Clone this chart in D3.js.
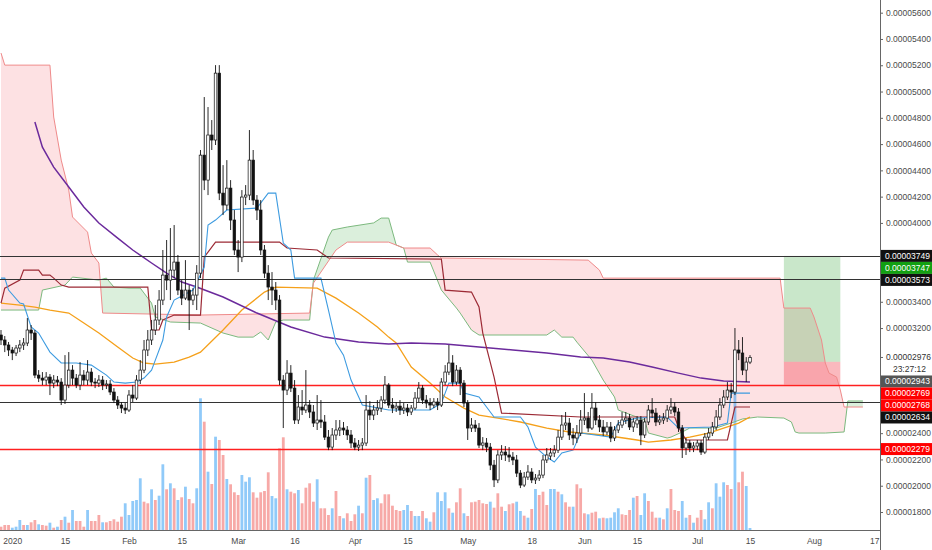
<!DOCTYPE html>
<html>
<head>
<meta charset="utf-8">
<script src="https://cdn.jsdelivr.net/npm/d3@7"></script>
<style>
  body { margin: 0; background: #fff; }
  svg { display: block; font-family: "Liberation Sans", Arial, sans-serif; }
  .tick text { fill: #4a4a4a; font-size: 8.5px; }
</style>
</head>
<body>
<svg width="932" height="550"></svg>
<script>
// prices are in units of 0.00000001
const firstCandle = '2019-12-29';

// daily candles [open, high, low, close]
const ohlc = [
  [3147,3185,3071,3109],[3109,3139,3017,3071],[3071,3094,2987,3033],[3033,3056,2956,3010],[3010,3071,2987,3048],
  [3048,3109,3017,3071],[3071,3124,3033,3086],[3086,3276,3063,3185],[3185,3223,3109,3162],[3162,3185,2819,2842],
  [2842,2880,2789,2819],[2819,2865,2766,2804],[2804,2865,2766,2827],[2827,2850,2690,2781],[2781,2842,2743,2804],
  [2804,2835,2758,2789],[2789,2819,2614,2652],[2652,2994,2622,2766],[2766,3017,2743,2880],[2880,2918,2766,2819],
  [2819,2850,2743,2766],[2766,2941,2728,2842],[2842,2880,2766,2804],[2804,2956,2766,2865],[2865,2895,2758,2789],
  [2789,2819,2743,2781],[2781,2842,2751,2804],[2804,2835,2728,2766],[2766,2804,2736,2774],[2774,2804,2690,2713],
  [2713,2743,2629,2652],[2652,2682,2584,2614],[2614,2637,2553,2591],[2591,2629,2546,2576],[2576,2728,2561,2690],
  [2690,2766,2637,2667],[2667,2842,2652,2804],[2804,2956,2774,2880],[2880,3109,2857,3033],[3033,3185,2987,3109],
  [3109,3261,3071,3185],[3185,3375,3147,3261],[3261,3489,3223,3413],[3413,3794,3375,3603],[3603,3870,3489,3565],
  [3565,3961,3413,3641],[3641,3984,3580,3702],[3702,3756,3451,3489],[3489,3565,3375,3428],[3428,3717,3413,3489],
  [3489,3527,3185,3413],[3413,3504,3375,3451],[3451,3679,3337,3618],[3618,4555,3580,4516],[4516,4958,4250,4326],
  [4326,4882,4212,4669],[4669,4783,4555,4631],[4631,5201,4593,5140],[5140,5201,4174,4227],[4227,4440,4060,4136],
  [4136,4478,4098,4265],[4265,4326,3946,4022],[4022,4098,3756,3794],[3794,3870,3626,3740],[3740,4250,3702,4197],
  [4197,4288,4136,4212],[4212,4707,4174,4478],[4478,4555,4136,4174],[4174,4212,4022,4098],[4098,4174,3756,3794],
  [3794,3832,3580,3618],[3618,3679,3413,3512],[3512,3626,3375,3489],[3489,3550,3337,3413],[3413,3451,2766,2804],
  [2804,2842,2439,2728],[2728,2956,2690,2857],[2857,2918,2713,2743],[2743,2804,2470,2500],[2500,2690,2470,2599],
  [2599,2728,2538,2576],[2576,2880,2553,2614],[2614,2652,2515,2561],[2561,2614,2447,2477],[2477,2690,2424,2500],
  [2500,2652,2439,2485],[2485,2538,2348,2370],[2370,2424,2271,2294],[2294,2439,2271,2386],[2386,2500,2348,2424],
  [2424,2500,2378,2439],[2439,2485,2386,2424],[2424,2454,2348,2386],[2386,2424,2287,2325],[2325,2363,2271,2294],
  [2294,2348,2264,2309],[2309,2363,2271,2325],[2325,2690,2302,2576],[2576,2644,2500,2538],[2538,2614,2500,2576],
  [2576,2652,2538,2591],[2591,2682,2561,2652],[2652,2835,2622,2766],[2766,2781,2591,2614],[2614,2667,2553,2591],
  [2591,2637,2561,2606],[2606,2652,2538,2576],[2576,2629,2546,2591],[2591,2622,2530,2561],[2561,2614,2538,2591],
  [2591,2713,2576,2667],[2667,2789,2637,2743],[2743,2766,2622,2652],[2652,2690,2591,2629],[2629,2667,2576,2614],
  [2614,2667,2591,2637],[2637,2667,2576,2614],[2614,2819,2599,2789],[2789,2918,2766,2865],[2865,3071,2842,2934],
  [2934,2994,2758,2789],[2789,2918,2766,2880],[2880,2903,2690,2781],[2781,2804,2599,2629],[2629,2652,2348,2439],
  [2439,2515,2409,2462],[2462,2500,2409,2439],[2439,2477,2287,2309],[2309,2370,2271,2325],[2325,2363,2256,2294],
  [2294,2325,2119,2157],[2157,2196,1990,2044],[2044,2271,2020,2234],[2234,2309,2196,2256],[2256,2302,2188,2234],
  [2234,2294,2180,2218],[2218,2256,2157,2196],[2196,2234,2066,2096],[2096,2119,1982,2005],[2005,2104,1990,2066],
  [2066,2157,2044,2104],[2104,2134,2020,2044],[2044,2089,2013,2058],[2058,2119,2036,2081],[2081,2234,2058,2196],
  [2196,2287,2173,2234],[2226,2287,2196,2249],[2249,2309,2218,2271],[2271,2424,2249,2370],[2370,2538,2348,2462],
  [2462,2561,2424,2477],[2477,2515,2348,2386],[2386,2439,2309,2363],[2363,2462,2325,2401],[2401,2576,2378,2500],
  [2500,2705,2462,2515],[2515,2561,2409,2439],[2439,2705,2424,2591],[2591,2637,2462,2500],[2500,2538,2409,2447],
  [2447,2500,2378,2409],[2409,2485,2386,2447],[2447,2485,2332,2363],[2363,2454,2340,2424],[2424,2500,2401,2462],
  [2462,2561,2439,2500],[2500,2561,2470,2515],[2515,2546,2424,2447],[2447,2515,2409,2485],[2470,2530,2439,2500],
  [2500,2530,2309,2386],[2386,2515,2363,2485],[2485,2614,2462,2576],[2576,2667,2515,2553],[2553,2591,2454,2485],
  [2485,2538,2462,2500],[2500,2553,2470,2515],[2515,2614,2485,2576],[2576,2667,2546,2599],[2599,2637,2530,2561],
  [2561,2591,2409,2439],[2439,2462,2211,2287],[2287,2363,2234,2325],[2325,2348,2256,2287],[2287,2332,2256,2302],
  [2302,2348,2271,2325],[2325,2348,2234,2256],[2256,2401,2241,2370],[2370,2439,2348,2401],[2401,2485,2378,2447],
  [2447,2576,2424,2523],[2523,2667,2500,2614],[2614,2728,2591,2675],[2675,2789,2652,2728],[2728,2781,2667,2713],
  [2713,3200,2690,3033],[3033,3109,2956,3010],[3010,3131,2842,2880],[2880,2979,2789,2941],[2941,2994,2926,2976]
];

// volume per candle (billions) and its direction (u = up, d = down)
const volume = [
  3.3,5,5,2.3,3.3,10,5,5,7.7,10, 5.7,5,4.3,7.3,2.3,3.3,10,13.3,7.3,20,
  9,9,3.3,20,9,9,15,7.7,7.7,9, 10.7,8.3,13.3,26.7,15,29,30,51.7,28.3,26.7,
  40.7,30,34.3,65.7,40.7,46.7,41.7,30,32.7,43.3, 31,26.7,41.7,131.7,108.3,58.3,46,93.3,90,75,
  51,45.7,37.7,35,55,48.3,52.7,37.7,32.3,37.7, 39,57.7,34,31.7,81.7,92.7,40.7,38.3,36.7,40,
  26.7,42.3,46.7,28.3,50.7,21.7,21.7,15,21.7,39, 14,11.7,16.7,9,15.7,24.3,16.7,52.3,55,30,
  31.7,26.7,35.7,
  35.7,24.3,20,19,20,25,19,14,14,19, 11.7,8.3,17.7,37.7,29,37.7,21.7,17.3,27.7,41.7,
  16.7,14,27.7,28.3,30,26.7,26,28.3,22.3,36.7, 23.3,19,25.7,26.7,28.3,19,14.3,12.3,21,41,
  35,38.3,25,41,41,38.3,35.7,27.7,23.3,23.3, 45.7,41.7,16.7,15.7,17.3,18.3,11.7,12.3,11.7,12.3,
  17.7,21.7,15.7,15,20,32.3,34,15,36.7,29, 18.3,12.3,12.3,10.7,21.7,41,20,19,29,12.3,
  15,7.3,12.3,20,10.7,27.7,21.7,46.7,33.3,47.7, 45,41,147,47.7,58.3,44,
  2
];
const volumeDir = [
  'ddduuududd', 'uddudududu', 'dddudddudd', 'ddduuuuudd', 'uduudududu',
  'dduudududd', 'uddduuuddd', 'dduudduddu', 'ddddudddud', 'dudddududu', 'udd',
  'dddduuduud', 'uuduuududd', 'uddddddudd', 'dudduududu', 'ddduududdu',
  'dddudduduu', 'uuddduduud', 'ddududdduu', 'dudduuduuu', 'dduddu',
  'u'
].join('');

// Ichimoku and moving averages: [days from 2020-01-01, price]
const tenkan = [[-3,3580],[-2,3580],[-1,3489],[2,3390],[3,3383],[5,3208],[7,3162],[10,3017],[13,2934],[17,2934],
  [21,2918],[25,2842],[27,2789],[30,2781],[33,2789],[35,2819],[37,2880],[38,2956],[40,3109],[41,3284],[43,3413],
  [48,3489],[51,3664],[52,3984],[54,4022],[57,4098],[65,4113],[68,4227],[70,4227],[72,3847],[74,3794],[75,3580],
  [82,3580],[84,3337],[86,3086],[88,2994],[90,2804],[93,2614],[100,2576],[111,2576],[114,2629],[115,2705],
  [116,2781],[119,2781],[120,2705],[124,2675],[126,2599],[128,2523],[135,2523],[137,2447],[139,2294],[142,2218],
  [144,2180],[146,2249],[149,2271],[151,2401],[159,2370],[161,2477],[166,2515],[174,2523],[177,2439],[186,2447],
  [190,2477],[191,2705],[196,2705]];
const kijun = [[-3,3390],[-2,3504],[2,3565],[3,3641],[7,3641],[8,3603],[10,3603],[11,3580],[13,3527],[15,3512],
  [36,3512],[37,3185],[39,3185],[40,3261],[43,3299],[50,3299],[51,3740],[54,3854],[71,3854],[73,3809],[81,3794],
  [84,3733],[114,3725],[115,3489],[122,3474],[124,3360],[125,3162],[128,2827],[130,2553],[151,2523],[176,2523],
  [177,2447],[179,2348],[190,2348],[192,2599],[196,2599]];
const spanA = [[-3,3337],[7,3337],[8,3489],[14,3527],[16,3588],[23,3565],[25,3580],[27,3512],[31,3504],[34,3504],
  [35,3466],[37,3390],[38,3284],[42,3246],[50,3238],[56,3162],[60,3131],[64,3131],[66,3170],[68,3109],[70,3246],
  [72,3261],[79,3261],[80,3565],[84,3892],[85,3946],[89,3969],[96,4000],[98,4037],[100,4037],[102,3832],[104,3809],
  [105,3702],[111,3702],[114,3489],[118,3352],[119,3314],[122,3185],[124,3147],[142,3147],[144,3185],[146,3131],
  [149,3131],[150,3093],[154,2956],[157,2804],[160,2675],[161,2576],[168,2500],[169,2401],[174,2363],[175,2370],
  [178,2409],[180,2439],[187,2439],[191,2477],[194,2508],[198,2523],[205,2515],[207,2485],[208,2409],[209,2401],
  [216,2401],[221,2409],[222,2645],[226,2645]];
const spanB = [[-3,5293],[-2,5201],[10,5201],[11,4806],[13,4478],[15,4250],[16,4045],[20,3930],[21,3771],[23,3695],
  [24,3314],[50,3299],[79,3314],[80,3542],[86,3794],[89,3854],[100,3854],[104,3809],[111,3809],[113,3756],
  [114,3733],[153,3717],[156,3641],[157,3580],[204,3580],[205,3352],[212,3352],[213,3284],[215,3109],[216,2934],
  [217,2857],[219,2827],[220,2728],[221,2599],[226,2599]];
const ma50 = [[-3,3390],[2,3375],[6,3360],[10,3337],[15,3314],[19,3238],[23,3162],[28,3055],[32,2972],[35,2934],
  [38,2926],[43,2941],[47,2979],[50,3017],[56,3185],[61,3337],[67,3474],[70,3512],[81,3504],[86,3428],[92,3314],
  [97,3208],[100,3131],[102,3086],[106,2903],[111,2781],[115,2675],[120,2591],[124,2538],[129,2515],[135,2485],
  [142,2439],[148,2409],[157,2386],[166,2348],[169,2332],[175,2348],[180,2370],[185,2401],[189,2439],[193,2477],
  [196,2523]];
const ma200 = [[6,4768],[8,4577],[11,4425],[15,4273],[19,4121],[23,3999],[28,3885],[32,3794],[37,3695],[41,3618],
  [45,3550],[49,3512],[56,3436],[65,3314],[74,3208],[83,3131],[92,3093],[100,3078],[106,3086],[115,3078],
  [124,3055],[133,3033],[142,3010],[151,2979],[157,2972],[164,2941],[170,2903],[177,2857],[183,2819],[189,2797],
  [196,2789]];

// drawn levels, long position and price scale
const levels = [3749, 3573, 2769, 2634, 2279];
const position = { start: '2020-07-24', end: '2020-08-08', entry: 2943, target: 3749, stop: 2769 };
const lastPrice = 2976;
const countdown = '23:27:12';
const axisTags = [3749, 3747, 3573, 2943, 2769, 2768, 2634, 2279];
const priceTicks = d3.range(1800, 5601, 200);
const dateTicks = ['2020-01-01','2020-01-15','2020-02-01','2020-02-15','2020-03-01','2020-03-16','2020-04-01',
  '2020-04-15','2020-05-01','2020-05-18','2020-06-01','2020-06-15','2020-07-01','2020-07-15','2020-08-01','2020-08-17'];
const dateTickLabels = ['2020','15','Feb','15','Mar','16','Apr','15','May','18','Jun','15','Jul','15','Aug','17'];

const svg = d3.select('svg');
const plotW = 880, plotH = 530;
const jan1 = new Date(Date.UTC(2020, 0, 1));
const parse = d3.utcParse('%Y-%m-%d');
const dayDate = (n) => d3.utcDay.offset(jan1, n);
const candleDate = (i) => d3.utcDay.offset(parse(firstCandle), i);

const x = d3.scaleUtc()
  .domain([jan1, new Date(Date.UTC(2020, 6, 15))])
  .range([12.3, 750]);
const y = d3.scaleLinear().domain([1800, 5600]).range([512, 12.7]);
const yVol = d3.scaleLinear().domain([0, 150]).range([plotH, plotH - 150]);
const fmt = (v) => (v * 1e-8).toFixed(8);

svg.append('rect').attr('width', 932).attr('height', 550).attr('fill', '#fff');

const defs = svg.append('defs');
defs.append('clipPath').attr('id', 'plot')
  .append('rect').attr('width', plotW).attr('height', plotH);

const px = (p) => x(dayDate(p[0]));
const py = (p) => y(p[1]);

defs.append('clipPath').attr('id', 'aboveA')
  .append('path').attr('d', d3.area().x(px).y0(0).y1(py)(spanA));
defs.append('clipPath').attr('id', 'aboveB')
  .append('path').attr('d', d3.area().x(px).y0(0).y1(py)(spanB));

const g = svg.append('g').attr('clip-path', 'url(#plot)');

// cloud
g.append('g').attr('clip-path', 'url(#aboveA)')
  .append('path')
  .attr('d', d3.area().x(px).y0(py).y1(plotH)(spanB))
  .attr('fill', 'rgba(242,54,69,0.15)');
g.append('g').attr('clip-path', 'url(#aboveB)')
  .append('path')
  .attr('d', d3.area().x(px).y0(py).y1(plotH)(spanA))
  .attr('fill', 'rgba(76,175,80,0.2)');

// volume
g.append('g').selectAll('rect')
  .data(volume)
  .join('rect')
  .attr('x', (v, i) => x(candleDate(i)) - 1.4)
  .attr('width', 2.8)
  .attr('y', (v) => yVol(v))
  .attr('height', (v) => plotH - yVol(v))
  .attr('fill', (v, i) => volumeDir[i] === 'u' ? 'rgba(33,150,243,0.5)' : 'rgba(239,83,80,0.5)');

// long position
const posX0 = x(parse(position.start)), posX1 = x(parse(position.end));
g.append('rect')
  .attr('x', posX0).attr('width', posX1 - posX0)
  .attr('y', y(position.target)).attr('height', y(position.entry) - y(position.target))
  .attr('fill', 'rgba(76,175,80,0.3)');
g.append('rect')
  .attr('x', posX0).attr('width', posX1 - posX0)
  .attr('y', y(position.entry)).attr('height', y(position.stop) - y(position.entry))
  .attr('fill', 'rgba(242,54,69,0.35)');

// indicator lines
const line = d3.line().x(px).y(py);
const series = [
  [spanA, '#7cb97e', 1],
  [spanB, '#ef8a8a', 1],
  [ma50, '#f5a01a', 1.3],
  [ma200, '#6b2a9c', 1.5],
  [kijun, '#9c2a35', 1.2],
  [tenkan, '#3d9be0', 1.1]
];
series.forEach(([data, color, w]) => {
  g.append('path').attr('d', line(data))
    .attr('fill', 'none').attr('stroke', color).attr('stroke-width', w);
});

// horizontal levels
const levelColors = ['#333333', '#333333', '#ff2020', '#333333', '#ff2020'];
g.append('g').selectAll('line')
  .data(levels)
  .join('line')
  .attr('class', 'level')
  .attr('x1', 0).attr('x2', plotW)
  .attr('y1', (v) => Math.round(y(v)) + 0.5).attr('y2', (v) => Math.round(y(v)) + 0.5)
  .style('stroke', (v, i) => levelColors[i])
  .style('stroke-width', (v, i) => i === 2 || i === 4 ? 1.3 : 1);

// candles
const candles = g.append('g').selectAll('g')
  .data(ohlc)
  .join('g')
  .attr('transform', (d, i) => `translate(${x(candleDate(i))},0)`);
candles.append('line')
  .attr('y1', (d) => y(d[1])).attr('y2', (d) => y(d[2]))
  .attr('stroke', '#111').attr('stroke-width', 0.9);
candles.append('rect')
  .attr('x', -1.3).attr('width', 2.6)
  .attr('y', (d) => y(Math.max(d[0], d[3])))
  .attr('height', (d) => Math.max(1, Math.abs(y(d[0]) - y(d[3]))))
  .attr('fill', (d) => d[3] >= d[0] ? '#fff' : '#111')
  .attr('stroke', '#111').attr('stroke-width', 0.7);

// x axis
const xAxisG = svg.append('g')
  .attr('transform', `translate(0,${plotH})`)
  .call(d3.axisBottom(x)
    .tickValues(dateTicks.map(parse))
    .tickFormat((d, i) => dateTickLabels[i])
    .tickSize(0)
    .tickPadding(8));
xAxisG.select('.domain').remove();
svg.append('line').attr('x1', 0).attr('x2', plotW)
  .attr('y1', plotH + 0.5).attr('y2', plotH + 0.5).attr('stroke', '#666');

// axis tags placement (pushed down when they would overlap)
const tagColors = { 3749: ['#111', '#fff'], 3747: ['#12a012', '#fff'], 3573: ['#111', '#fff'],
  2943: ['#555', '#fff'], 2769: ['#f00', '#fff'], 2768: ['#f00', '#fff'], 2634: ['#111', '#fff'],
  2279: ['#f00', '#fff'] };
const tags = axisTags.map((v) => ({ v, yy: y(v) }));
tags.push({ v: lastPrice, yy: y(lastPrice), last: true });
tags.sort((a, b) => b.v - a.v);
let prev = -100;
tags.forEach((t) => {
  t.pos = Math.max(t.yy, prev + 12);
  prev = t.pos + (t.last ? 12 : 0);
});
const covered = (v) => tags.some((t) => y(v) > t.pos - 10 && y(v) < t.pos + (t.last ? 22 : 10));

// y axis
const yAxisG = svg.append('g')
  .attr('transform', `translate(${plotW},0)`)
  .call(d3.axisRight(y)
    .tickValues(priceTicks.filter((v) => !covered(v)))
    .tickFormat(fmt)
    .tickSize(3)
    .tickPadding(3));
yAxisG.select('.domain').remove();
yAxisG.selectAll('.tick line').attr('stroke', '#666');
svg.append('line').attr('x1', plotW + 0.5).attr('x2', plotW + 0.5)
  .attr('y1', 0).attr('y2', 550).attr('stroke', '#666');

const tagG = svg.append('g');
tags.forEach((t) => {
  if (t.last) {
    tagG.append('line').attr('x1', plotW).attr('x2', plotW + 3).attr('y1', t.pos).attr('y2', t.pos).attr('stroke', '#666');
    tagG.append('text').attr('x', plotW + 6).attr('y', t.pos).attr('dy', '0.33em')
      .attr('fill', '#333').attr('font-size', 8.5).text(fmt(t.v));
    tagG.append('text').attr('x', 926).attr('y', t.pos + 12).attr('dy', '0.33em')
      .attr('text-anchor', 'end').attr('fill', '#333').attr('font-size', 8.5).text(countdown);
    return;
  }
  const [bg, fg] = tagColors[t.v];
  tagG.append('rect').attr('x', plotW + 1).attr('y', t.pos - 6).attr('width', 51).attr('height', 12).attr('fill', bg);
  tagG.append('text').attr('x', plotW + 5).attr('y', t.pos).attr('dy', '0.35em')
    .attr('fill', fg).attr('font-size', 8.5).text(fmt(t.v));
});
</script>
</body>
</html>
